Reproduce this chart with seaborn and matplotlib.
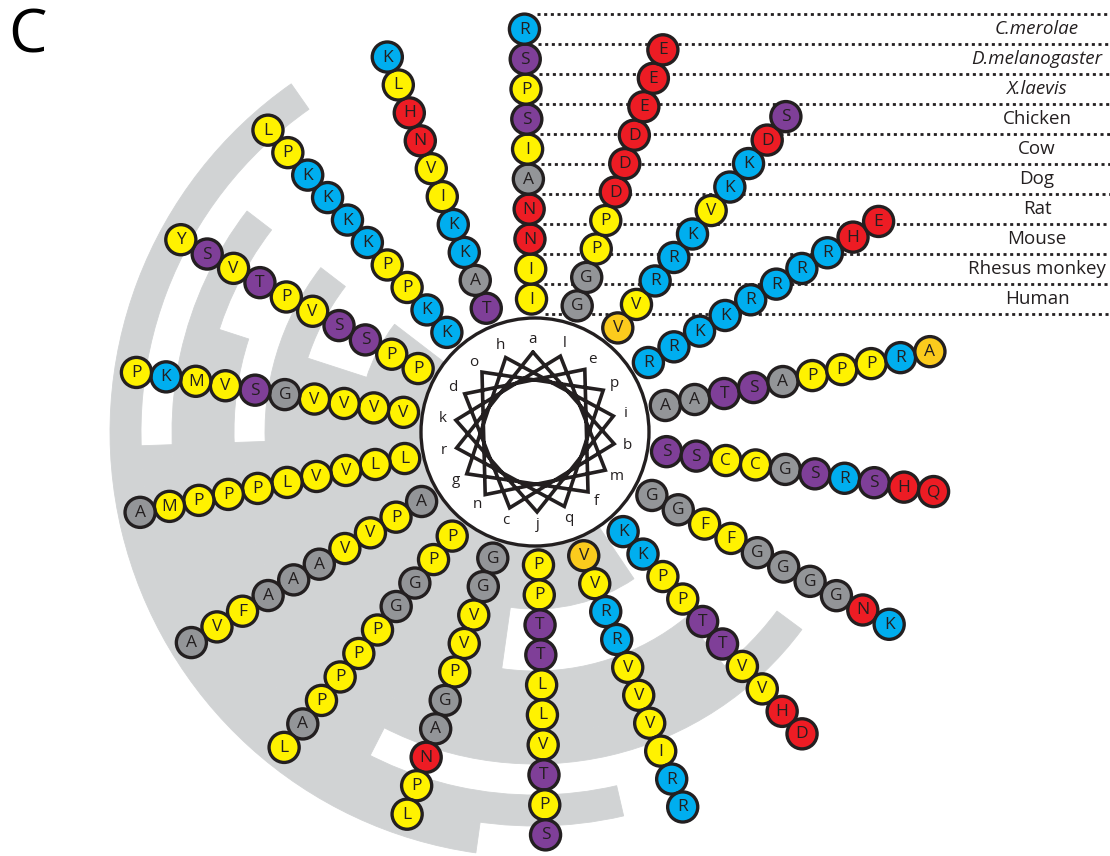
import numpy as np
import pandas as pd
import matplotlib
matplotlib.use("Agg")
import matplotlib.pyplot as plt
from matplotlib.patches import Circle, Wedge
import seaborn as sns

# ---------------- data ----------------
# helical-wheel positions (a..r), residue n sits at n*100 degrees
positions = list("abcdefghijklmnopqr")

# species, from the innermost ring of the wheel to the outermost
species = ["Human", "Rhesus monkey", "Mouse", "Rat", "Dog", "Cow",
           "Chicken", "X.laevis", "D.melanogaster", "C.merolae"]
italic_species = ["X.laevis", "D.melanogaster", "C.merolae"]

# residue of each species at positions a..r
seq_human     = "ISGPVKATAPVGGPKRVL"
seq_rhesus    = "ISGPVKPAAPVGGPKRVL"
seq_mouse     = "NCVSRPVKTTVPFGPKRV"
seq_rat       = "NCVSRPVKSTVPFGPKRV"
seq_dog       = "AGPVKTAIALGDGPKRVL"
seq_cow       = "ISGPVTAVPLSDGPKRVP"
seq_chicken   = "SRATKVANPVVDGPKRVP"
seq_xlaevis   = "PSNVKVFHPTMEGPKRIP"
seq_dmel      = "SHPSDHVLRPKENAPHRM"
seq_cmerolae  = "RQLYSDAKASPEKLLERA"
sequences = [seq_human, seq_rhesus, seq_mouse, seq_rat, seq_dog, seq_cow,
             seq_chicken, seq_xlaevis, seq_dmel, seq_cmerolae]

# residues drawn with the highlight colour
highlighted = [("Human", "e"), ("Human", "q"), ("C.merolae", "i")]

residue_class = {}
for aa in "KR":
    residue_class[aa] = "basic"
for aa in "DEHNQ":
    residue_class[aa] = "acidic"
for aa in "ST":
    residue_class[aa] = "hydroxyl"
for aa in "AG":
    residue_class[aa] = "small"
for aa in "ILVPMFCYW":
    residue_class[aa] = "hydrophobic"

palette = {
    "basic": "#00AEEF",
    "acidic": "#ED1C24",
    "hydroxyl": "#7F3F98",
    "small": "#939598",
    "hydrophobic": "#FFF200",
    "highlight": "#FBCB1D",
}

# ---------------- layout ----------------
CX, CY = 535.0, 432.0        # wheel centre (pixels)
WHEEL_R = 114.0              # white disc radius
R0, STEP = 133.0, 30.0       # first residue ring radius and ring spacing
ROT = -1.5                   # rotation of the whole wheel (deg)
STAR_R = 80.0
LABEL_R = 93.0
INK = "#231F20"
BAND_GREY = "#D1D3D4"

# background maze: (first ring, last ring, start angle, end angle), angles clockwise from top
ring_edges = 115.0 + 31.0 * np.arange(11)
grey_bands = [
    (0, 2, 146.0, 307.5),
    (2, 4, 188.0, 288.0),
    (4, 5, 141.0, 307.5),
    (5, 6, 141.0, 268.0),
    (6, 7, 126.5, 288.0),
    (7, 8, 207.0, 307.5),
    (8, 9, 167.0, 268.0),
    (9, 10, 188.0, 325.0),
]


def polar(r, theta_deg):
    t = np.deg2rad(theta_deg)
    return CX + r * np.sin(t), CY - r * np.cos(t)


def wheel_angle(idx):
    return (idx * 100) % 360 + ROT


rows = []
for k, (sp, seq) in enumerate(zip(species, sequences)):
    for n, (pos, aa) in enumerate(zip(positions, seq)):
        x, y = polar(R0 + STEP * k, wheel_angle(n))
        group = "highlight" if (sp, pos) in highlighted else residue_class[aa]
        rows.append({"species": sp, "position": pos, "residue": aa,
                     "x": x, "y": y, "group": group})
df = pd.DataFrame(rows)

# ---------------- figure ----------------
sns.set_theme(style="white")
plt.rcParams["font.family"] = ["Open Sans", "DejaVu Sans"]

fig = plt.figure(figsize=(11.10, 8.56), dpi=100)
ax = fig.add_axes([0, 0, 1, 1])

# grey maze behind the wheel
for r_a, r_b, th_a, th_b in grey_bands:
    r_in, r_out = ring_edges[r_a], ring_edges[r_b]
    ax.add_patch(Wedge((CX, CY), r_out, th_a - 90, th_b - 90, width=r_out - r_in,
                       facecolor=BAND_GREY, edgecolor=BAND_GREY, lw=0.6, zorder=0))

# dotted guide lines separating the species rows of the top spoke
for k in range(len(species) + 1):
    r = R0 - STEP / 2 + STEP * k
    x0, y0 = polar(r, ROT)
    ax.plot([x0 + 13, 1110], [y0, y0], color=INK, lw=2.0,
            linestyle=(0, (1.1, 1.3)), dash_capstyle="butt", zorder=1)

# species names
for k, sp in enumerate(species):
    _, y = polar(R0 + STEP * k, 0)
    ax.text(1037, y, sp, ha="center", va="center", fontsize=13.5, color=INK,
            style="italic" if sp in italic_species else "normal", zorder=6)

# central disc
ax.add_patch(Circle((CX, CY), WHEEL_R, facecolor="white", edgecolor=INK,
                    lw=2.4, zorder=2))

# helical wheel star: consecutive residues joined (100 deg apart)
star = [polar(STAR_R, wheel_angle(n)) for n in range(len(positions) + 1)]
ax.plot([p[0] for p in star], [p[1] for p in star], color=INK, lw=2.6,
        solid_joinstyle="miter", zorder=3)

for n, pos in enumerate(positions):
    x, y = polar(LABEL_R, wheel_angle(n))
    ax.text(x, y, pos, ha="center", va="center", fontsize=11, color=INK, zorder=3)

# residues
sns.scatterplot(data=df, x="x", y="y", hue="group", palette=palette,
                s=470, edgecolor=INK, linewidth=2.4, legend=False, ax=ax, zorder=4)
for _, row in df.iterrows():
    ax.text(row["x"], row["y"] + 0.5, row["residue"], ha="center", va="center",
            fontsize=12.5, color=INK, zorder=5)

# panel letter
ax.text(8, 6, "C", ha="left", va="top", fontsize=44, color="black")

ax.set_xlim(0, 1110)
ax.set_ylim(856, 0)
ax.axis("off")
fig.savefig("out.png", dpi=100, facecolor="white")
